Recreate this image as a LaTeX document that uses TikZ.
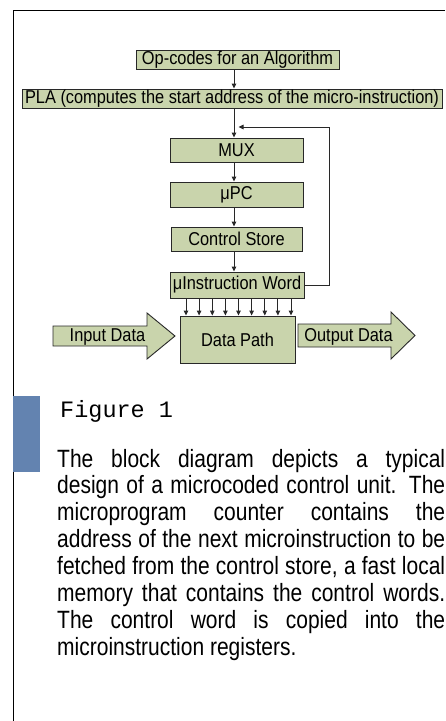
\documentclass[tikz,border=0pt]{standalone}
\usepackage{fontspec}
\newfontfamily\nar[FakeStretch=0.88]{Liberation Sans}
\newfontfamily\bodyf[FakeStretch=0.84]{Liberation Sans}
\newfontfamily\monof{Liberation Mono}
\usetikzlibrary{arrows.meta}
\definecolor{boxfill}{RGB}{201,212,172}
\definecolor{barblue}{RGB}{99,131,176}
\definecolor{lineg}{RGB}{40,40,40}
\begin{document}
\begin{tikzpicture}[x=1pt,y=-1pt,
  blk/.style={draw=lineg, line width=0.9pt, fill=boxfill, inner sep=0pt,
    font=\nar\fontsize{18.6}{20}\selectfont},
  conn/.style={draw=lineg, line width=0.9pt, -{Triangle[length=5pt,width=4.5pt]}},
  bigarrow/.style={draw=lineg, line width=0.9pt, fill=boxfill},
  lbl/.style={inner sep=0pt, anchor=base, font=\nar\fontsize{18.6}{20}\selectfont}
]
\useasboundingbox (0,0) rectangle (445,721);
\fill[white] (0,0) rectangle (445,721);
\draw[line width=1pt] (13.5,721) -- (13.5,10.5) -- (445,10.5);

\node[blk, minimum width=203, minimum height=19] (op) at (237.5,59.5) {Op-codes for an Algorithm};
\node[blk, minimum width=420, minimum height=19] (pla) at (232,98.5) {PLA (computes the start address of the micro-instruction)};
\node[blk, minimum width=133, minimum height=24] (mux) at (236.5,150) {MUX};
\node[blk, minimum width=133, minimum height=25] (upc) at (236.5,194.5) {μPC};
\node[blk, minimum width=131, minimum height=24] (cs) at (236.5,239) {Control Store};
\node[blk, minimum width=134, minimum height=26] (uiw) at (237,285) {μInstruction Word};
\node[blk, minimum width=115, minimum height=47] (dp) at (237.5,339.5) {Data Path};

\coordinate (ax) at (234,0);
\draw[conn] (op.south -| ax) -- (pla.north -| ax);
\draw[conn] (pla.south -| ax) -- (mux.north -| ax);
\draw[conn] (mux.south -| ax) -- (upc.north -| ax);
\draw[conn] (upc.south -| ax) -- (cs.north -| ax);
\draw[conn] (cs.south -| ax) -- (uiw.north -| ax);

\coordinate (fb) at (329,127);
\coordinate (fbend) at (238.5,127);
\draw[conn] (uiw.east) -| (fb) -- (fbend);

\foreach \x [count=\i] in {186,199.1,212.3,225.4,238.5,251.6,264.8,277.9,291} {
  \coordinate (t\i) at (\x,0);
  \draw[conn] (uiw.south -| t\i) -- (dp.north -| t\i);
}

\draw[bigarrow] (53,326) -- (147,326) -- (147,313) -- (175,336) -- (147,359) -- (147,346) -- (53,346) -- cycle;
\node[lbl] (in) at (107.5,341.5) {Input Data};
\draw[bigarrow] (298,324) -- (391,324) -- (391,312) -- (415,335.5) -- (391,359) -- (391,347) -- (298,347) -- cycle;
\node[lbl] (out) at (348.5,341.5) {Output Data};

\fill[barblue] (13,396) rectangle (40,472);
\node[anchor=base west, inner sep=0pt, font=\monof\fontsize{23.5}{24}\selectfont] (fig) at (60,417) {Figure 1};
\node[anchor=base west, inner sep=0pt, text width=388pt, align=justify,
  font=\bodyf\fontsize{25}{26.9}\selectfont] (body) at (57,467)
  {\hyphenpenalty=10000 The block diagram depicts a typical\linebreak
   design of a microcoded control unit. The\linebreak
   microprogram counter contains the\linebreak
   address of the next microinstruction to be\linebreak
   fetched from the control store, a fast local\linebreak
   memory that contains the control words.\linebreak
   The control word is copied into the\linebreak
   microinstruction registers.};
\end{tikzpicture}
\end{document}
